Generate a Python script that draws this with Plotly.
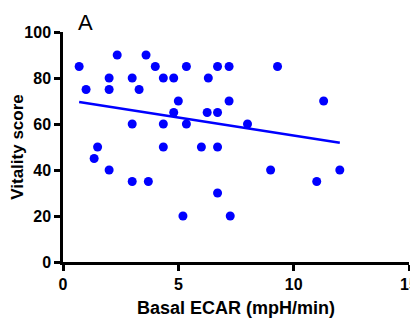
import numpy as np
import plotly.graph_objects as go

basal_ecar = [0.7, 1.0, 1.35, 1.5, 2.0, 2.0, 2.0, 2.35, 3.0, 3.0, 3.0, 3.3, 3.6, 3.7,
              4.0, 4.35, 4.35, 4.35, 4.8, 4.8, 5.0, 5.2, 5.35, 5.35, 6.0, 6.3, 6.25,
              6.7, 6.7, 6.7, 6.7, 7.2, 7.2, 7.25, 8.0, 9.0, 9.3, 11.0, 11.3, 12.0]
vitality = [85, 75, 45, 50, 40, 80, 75, 90, 80, 60, 35, 75, 90, 35,
            85, 80, 60, 50, 80, 65, 70, 20, 85, 60, 50, 80, 65,
            85, 65, 50, 30, 85, 70, 20, 60, 40, 85, 35, 70, 40]
x_ticks = [0, 5, 10, 15]
y_ticks = [0, 20, 40, 60, 80, 100]

x = np.array(basal_ecar)
y = np.array(vitality)
slope, intercept = np.polyfit(x, y, 1)
fit_x = np.array([x.min(), x.max()])
fit_y = slope * fit_x + intercept

BLUE = "#0000ff"
# page body has an 8px default margin, so the figure is sized to compensate
ML, MR, MT, MB = 55, 9, 24, 60
W, H = 410, 314
PW, PH = W - ML - MR, H - MT - MB

fig = go.Figure()
fig.add_trace(go.Scatter(x=fit_x, y=fit_y, mode="lines",
                         line=dict(color=BLUE, width=2.5), hoverinfo="skip"))
fig.add_trace(go.Scatter(x=x, y=y, mode="markers",
                         marker=dict(color=BLUE, size=9, line=dict(width=0))))

tick_font = dict(family="Liberation Sans", size=16, color="black", weight="bold")
fig.update_layout(
    width=W, height=H,
    margin=dict(l=ML, r=MR, t=MT, b=MB, autoexpand=False),
    paper_bgcolor="white", plot_bgcolor="white",
    showlegend=False,
    font=dict(family="Liberation Sans", color="black"),
    xaxis=dict(range=[0, 15], tickvals=x_ticks, ticks="outside", ticklen=6,
               tickwidth=2.5, tickcolor="black", showline=True, linewidth=2.5,
               linecolor="black", showgrid=False, zeroline=False, automargin=False,
               tickfont=tick_font, ticklabeloverflow="allow",
               title=dict(text="Basal ECAR (mpH/min)",
                          font=dict(family="Liberation Sans", size=18, color="black",
                                    weight="bold"),
                          standoff=10)),
    yaxis=dict(range=[0, 100], tickvals=y_ticks, ticks="outside", ticklen=6,
               tickwidth=2.5, tickcolor="black", showline=True, linewidth=2.5,
               linecolor="black", showgrid=False, zeroline=False, automargin=False,
               tickfont=tick_font,
               title=dict(text="Vitality score",
                          font=dict(family="Liberation Sans", size=17, color="black",
                                    weight="bold"),
                          standoff=2)),
)
fig.add_annotation(text="A", xref="paper", yref="paper",
                   x=(76 - 8 - ML) / PW, y=1 + MT / PH,
                   xanchor="left", yanchor="top", showarrow=False,
                   font=dict(family="Liberation Sans", size=22, color="black"))
fig.write_html("out.html")
